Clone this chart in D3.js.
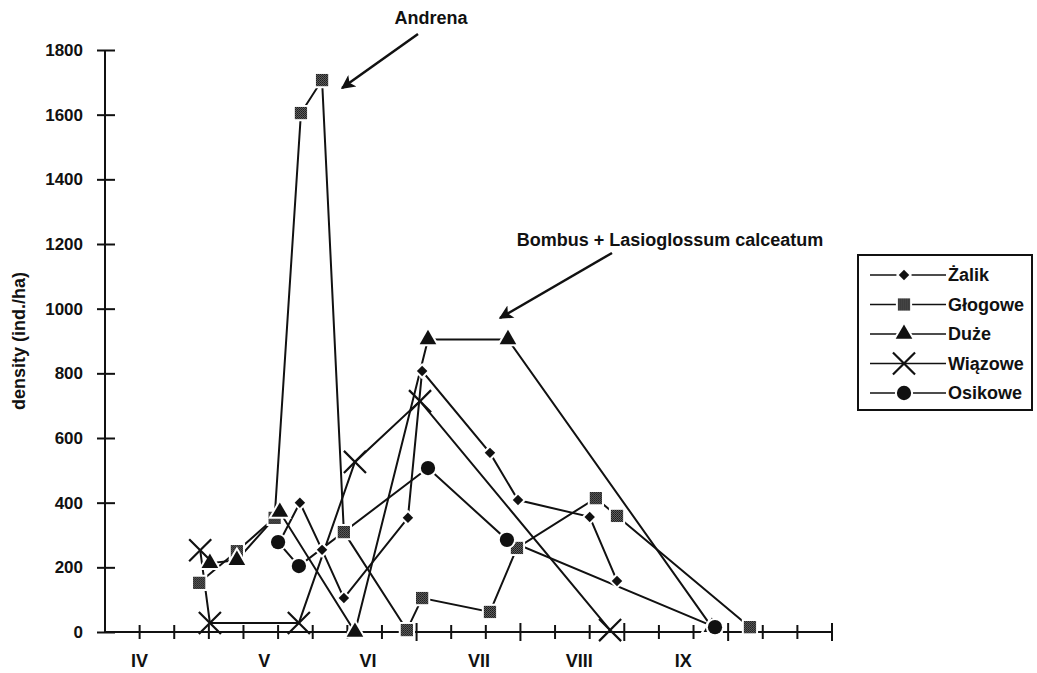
<!DOCTYPE html>
<html>
<head>
<meta charset="utf-8">
<script src="https://cdn.jsdelivr.net/npm/d3@7"></script>
<style>
  body { margin: 0; background: #fff; }
  text { font-family: "Liberation Sans", Arial, sans-serif; font-weight: bold; fill: #111; }
</style>
</head>
<body>
<div id="chart"></div>
<script>
// time is counted in decades (10-day periods) from 1 April
var months = ["IV", "V", "VI", "VII", "VIII", "IX"];
var monthPos = [1.0, 4.6, 7.6, 10.8, 13.7, 16.7];
var yTicks = [0, 200, 400, 600, 800, 1000, 1200, 1400, 1600, 1800];

var zalikX = [5.0, 5.63, 6.27, 6.9, 8.75, 9.16, 11.12, 11.93, 14.0, 14.79];
var zalikY = [270, 400, 254, 105, 353, 807, 554, 408, 356, 158];

var glogoweX = [2.72, 3.81, 4.9, 5.66, 6.27, 6.9, 8.72, 9.16, 11.12, 11.9, 14.18, 14.79, 18.63];
var glogoweY = [152, 250, 353, 1605, 1707, 309, 6, 105, 62, 260, 414, 359, 15];

var duzeX = [3.03, 3.81, 5.05, 7.22, 9.33, 11.64, 17.53];
var duzeY = [213, 222, 371, 0, 905, 905, 15];

var wiazoweX = [2.75, 3.03, 5.6, 7.22, 9.1, 14.59];
var wiazoweY = [253, 28, 28, 526, 714, 6];

var osikoweX = [5.0, 5.6, 9.33, 11.61, 17.62];
var osikoweY = [278, 204, 507, 285, 15];

var seriesNames = ["Żalik", "Głogowe", "Duże", "Wiązowe", "Osikowe"];

var width = 1037, height = 673;

var svg = d3.select("#chart").append("svg")
    .attr("width", width)
    .attr("height", height);

// dotted fill used by the Głogowe squares
var defs = svg.append("defs");
var pat = defs.append("pattern").attr("id", "dots")
    .attr("width", 2).attr("height", 2).attr("patternUnits", "userSpaceOnUse");
pat.append("rect").attr("width", 2).attr("height", 2).attr("fill", "#666");
pat.append("rect").attr("width", 1).attr("height", 1).attr("fill", "#111");
pat.append("rect").attr("x", 1).attr("y", 1).attr("width", 1).attr("height", 1).attr("fill", "#222");

var arrow = defs.append("marker").attr("id", "arrow")
    .attr("viewBox", "0 0 10 10").attr("refX", 9).attr("refY", 5)
    .attr("markerWidth", 26).attr("markerHeight", 14)
    .attr("markerUnits", "userSpaceOnUse")
    .attr("orient", "auto");
arrow.append("path").attr("d", "M0,0 L10,5 L0,10 L2.5,5 Z").attr("fill", "#111");

var x = d3.scaleLinear().domain([0, 21]).range([105, 832]);
var y = d3.scaleLinear().domain([0, 1800]).range([632, 50]);

// y axis
var yAxis = svg.append("g").attr("transform", "translate(" + x(0) + ",0)")
    .call(d3.axisLeft(y).tickValues(yTicks).tickSize(8).tickFormat(d3.format("d")));
yAxis.select(".domain").attr("stroke", "#111").attr("stroke-width", 2)
    .attr("d", "M0," + y(1800) + "V" + y(0));
yAxis.selectAll(".tick line").attr("x1", 10).attr("stroke", "#111").attr("stroke-width", 2);
yAxis.selectAll(".tick text").attr("x", -22).attr("font-size", 17)
    .style("font-family", "'Liberation Sans', Arial, sans-serif").style("font-weight", "bold").attr("fill", "#111");

svg.append("text")
    .attr("transform", "translate(25," + y(900) + ") rotate(-90)")
    .attr("text-anchor", "middle")
    .attr("font-size", 18)
    .text("density (ind./ha)");

// x axis: one tick per decade, month names underneath
svg.append("line")
    .attr("x1", x(0)).attr("x2", x(21))
    .attr("y1", y(0)).attr("y2", y(0))
    .attr("stroke", "#111").attr("stroke-width", 2);
svg.selectAll(".xtick").data(d3.range(1, 22)).enter().append("line")
    .attr("class", "xtick")
    .attr("x1", function(d){ return x(d); }).attr("x2", function(d){ return x(d); })
    .attr("y1", function(d){ return y(0) - (d % 3 == 0 && d > 8 ? 9 : 7); })
    .attr("y2", function(d){ return y(0) + (d % 3 == 0 && d > 8 ? 9 : 7); })
    .attr("stroke", "#111").attr("stroke-width", 2);
svg.selectAll(".month").data(months).enter().append("text")
    .attr("class", "month")
    .attr("x", function(d, i){ return x(monthPos[i]); })
    .attr("y", 667)
    .attr("text-anchor", "middle")
    .attr("font-size", 18)
    .text(function(d){ return d; });

// marker shapes
var diamond = d3.symbolDiamond2 || d3.symbolDiamond;
var styles = [
    {symbol: diamond, size: 70, fill: "#111"},
    {symbol: d3.symbolSquare, size: 150, fill: "url(#dots)"},
    {symbol: d3.symbolTriangle, size: 120, fill: "#111"},
    {symbol: d3.symbolX, size: 320, fill: "none"},
    {symbol: d3.symbolCircle, size: 160, fill: "#111"}
];

function drawMarker(g, st){
    if (st.fill == "none"){
        g.append("path").attr("d", d3.symbol(st.symbol, st.size)())
            .attr("fill", "none").attr("stroke", "#111").attr("stroke-width", 2.2);
    } else {
        g.append("path").attr("d", d3.symbol(st.symbol, st.size)())
            .attr("fill", st.fill).attr("stroke", "#fff").attr("stroke-width", 4)
            .style("paint-order", "stroke");
    }
}

var allX = [zalikX, glogoweX, duzeX, wiazoweX, osikoweX];
var allY = [zalikY, glogoweY, duzeY, wiazoweY, osikoweY];

var line = d3.line()
    .x(function(d){ return x(d[0]); })
    .y(function(d){ return y(d[1]); });

var plot = svg.append("g");
for (let s = 0; s < allX.length; s++){
    let pts = allX[s].map(function(v, i){ return [v, allY[s][i]]; });
    plot.append("path").datum(pts)
        .attr("d", line)
        .attr("fill", "none")
        .attr("stroke", "#111")
        .attr("stroke-width", 2);
}
for (let s = 0; s < allX.length; s++){
    let pts = allX[s].map(function(v, i){ return [v, allY[s][i]]; });
    pts.forEach(function(p){
        let g = plot.append("g").attr("transform", "translate(" + x(p[0]) + "," + y(p[1]) + ")");
        drawMarker(g, styles[s]);
    });
}

// legend
var legend = svg.append("g").attr("transform", "translate(858,255)");
legend.append("rect").attr("width", 174).attr("height", 155)
    .attr("fill", "#fff").attr("stroke", "#111").attr("stroke-width", 2);
seriesNames.forEach(function(name, i){
    let row = legend.append("g").attr("transform", "translate(0," + (20 + i * 29.5) + ")");
    row.append("line").attr("x1", 12).attr("x2", 88).attr("stroke", "#111").attr("stroke-width", 1.5);
    let g = row.append("g").attr("transform", "translate(46,0)");
    drawMarker(g, styles[i]);
    row.append("text").attr("x", 90).attr("y", 6).attr("font-size", 18).text(name);
});

// annotations
svg.append("text").attr("x", 431).attr("y", 24).attr("text-anchor", "middle")
    .attr("font-size", 18).text("Andrena");
svg.append("line").attr("x1", 418).attr("y1", 34).attr("x2", x(6.27) + 20).attr("y2", y(1707) + 8)
    .attr("stroke", "#111").attr("stroke-width", 2.5).attr("marker-end", "url(#arrow)");

svg.append("text").attr("x", 670).attr("y", 246).attr("text-anchor", "middle")
    .attr("font-size", 18).text("Bombus + Lasioglossum calceatum");
svg.append("line").attr("x1", 612).attr("y1", 253).attr("x2", 500).attr("y2", 318)
    .attr("stroke", "#111").attr("stroke-width", 2.5).attr("marker-end", "url(#arrow)");
</script>
</body>
</html>
